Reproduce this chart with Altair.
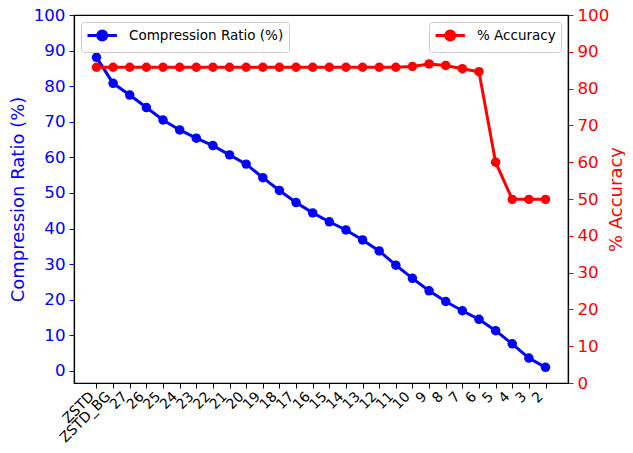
import altair as alt
import pandas as pd

categories = ["ZSTD", "ZSTD_BG", "27", "26", "25", "24", "23", "22", "21", "20", "19",
              "18", "17", "16", "15", "14", "13", "12", "11", "10", "9", "8", "7", "6",
              "5", "4", "3", "2"]
compression_ratio = [88.1, 80.8, 77.5, 74.0, 70.5, 67.7, 65.4, 63.3, 60.7, 58.1, 54.3,
                     50.7, 47.3, 44.4, 41.9, 39.6, 36.8, 33.7, 29.7, 26.0, 22.5, 19.5,
                     16.9, 14.5, 11.3, 7.6, 3.6, 1.0]
accuracy = [85.8, 85.8, 85.8, 85.8, 85.8, 85.8, 85.8, 85.8, 85.8, 85.8, 85.8, 85.8,
            85.8, 85.8, 85.8, 85.8, 85.8, 85.8, 85.8, 86.0, 86.7, 86.3, 85.4, 84.6,
            60.0, 49.9, 49.9, 49.9]
left_ticks = list(range(0, 101, 10))
right_ticks = list(range(0, 101, 10))

BLUE = "#0000ff"
RED = "#ff0000"
FONT = "DejaVu Sans"

n = len(categories)
df = pd.DataFrame({
    "idx": list(range(n)),
    "cat": categories,
    "cr": compression_ratio,
    "acc": accuracy,
    "s1": ["Compression Ratio (%)"] * n,
    "s2": ["% Accuracy"] * n,
})

label_expr = "[" + ",".join("'" + c + "'" for c in categories) + "][datum.value]"

SYM = "M-1,0L3.2,0M0.45,0A0.65,0.65 0 1,0 1.75,0A0.65,0.65 0 1,0 0.45,0Z"

def legend(orient, color):
    return alt.Legend(
        title=None, orient=orient, offset=7, padding=5,
        symbolType=SYM, symbolSize=196, symbolStrokeWidth=3,
        symbolFillColor=color, symbolStrokeColor=color,
        labelOffset=26, labelFontSize=13.5, labelFont=FONT, labelColor="black",
        strokeColor="#cccccc", fillColor="rgba(255,255,255,0.8)", cornerRadius=3,
    )

x_enc = alt.X("idx:Q", title=None,
              scale=alt.Scale(domain=[-1.353, n - 1 + 1.353], nice=False, zero=False),
              axis=alt.Axis(values=list(range(n)), labelExpr=label_expr,
                            labelAngle=-45, labelAlign="right", labelBaseline="bottom",
                            labelFontSize=14, labelColor="black", tickColor="black",
                            domainColor="black", tickSize=5, labelPadding=11,
                            labelFont=FONT, grid=False, labelOverlap=False,
                            labelFlush=False))

point_def = alt.OverlayMarkDef(filled=True, size=90, opacity=1)

blue = alt.Chart(df).mark_line(strokeWidth=3, point=point_def).encode(
    x=x_enc,
    y=alt.Y("cr:Q", scale=alt.Scale(domain=[-3.4, 100], nice=False, zero=False),
            axis=alt.Axis(orient="left", values=left_ticks, title="Compression Ratio (%)",
                          titleColor=BLUE, labelColor=BLUE, tickColor=BLUE,
                          domainColor="black", labelFontSize=16.7, titleFontSize=18,
                          titleFontWeight="normal", tickSize=5, labelPadding=4,
                          titlePadding=6, grid=False, labelFont=FONT, titleFont=FONT)),
    color=alt.Color("s1:N", scale=alt.Scale(domain=["Compression Ratio (%)"], range=[BLUE]),
                    legend=legend("top-left", BLUE)),
)

red = alt.Chart(df).mark_line(strokeWidth=3, point=point_def).encode(
    x=x_enc,
    y=alt.Y("acc:Q", scale=alt.Scale(domain=[0, 100], nice=False),
            axis=alt.Axis(orient="right", values=right_ticks, title="% Accuracy",
                          titleColor=RED, labelColor=RED, tickColor=RED,
                          domainColor="black", labelFontSize=16.7, titleFontSize=18,
                          titleFontWeight="normal", titleAngle=270, tickSize=5,
                          labelPadding=4, titlePadding=17, grid=False, labelFont=FONT,
                          titleFont=FONT)),
    color=alt.Color("s2:N", scale=alt.Scale(domain=["% Accuracy"], range=[RED]),
                    legend=legend("top-right", RED)),
)

chart = alt.layer(blue, red).resolve_scale(
    y="independent", color="independent"
).properties(
    width=494, height=368,
    autosize=alt.AutoSizeParams(type="none"),
    padding={"left": 66, "top": 7, "right": 57, "bottom": 62},
).configure(font=FONT).configure_view(stroke="black", strokeWidth=1.2).configure_axis(
    domainWidth=1.2, tickWidth=1
)

chart.save("out.html", embed_options={"renderer": "svg", "actions": False})
